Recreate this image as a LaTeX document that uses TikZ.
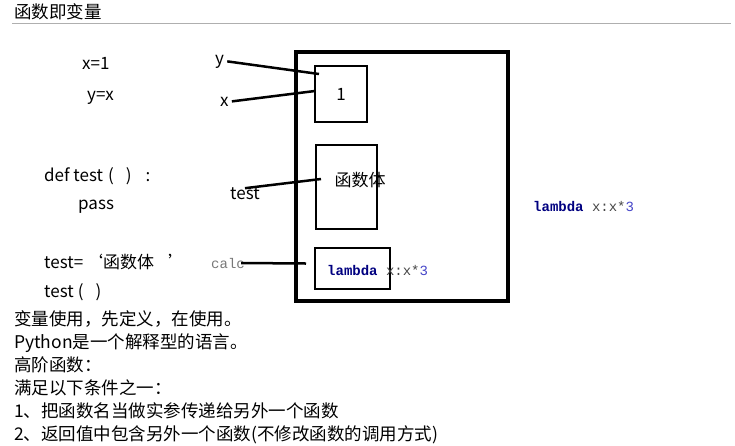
\documentclass[tikz,border=0pt]{standalone}
\usepackage{fontspec}
\setmainfont{Noto Sans CJK SC}
\newfontfamily\codefont{Liberation Mono}
\usepackage{tikz}
\usetikzlibrary{positioning,calc}
\definecolor{kwnavy}{RGB}{0,0,128}
\definecolor{exprgray}{RGB}{70,70,70}
\definecolor{numblue}{RGB}{70,70,200}
\definecolor{lblgray}{RGB}{120,120,120}
\definecolor{rulegray}{RGB}{175,175,175}
\tikzset{
  outerbox/.style={rectangle,draw=black,line width=3.2pt,anchor=north west,
    outer sep=0pt,inner sep=0pt},
  cellbox/.style={rectangle,draw=black,line width=2.6pt,anchor=north west,
    outer sep=0pt,inner sep=0pt,font=\fontsize{17pt}{20pt}\selectfont},
  ptr/.style={draw=black,line width=2.5pt},
  codetxt/.style={anchor=base west,inner sep=0pt,
    font=\fontsize{17pt}{20pt}\selectfont},
  notetxt/.style={anchor=base west,inner sep=0pt,
    font=\fontsize{17.5pt}{20pt}\selectfont},
  namelbl/.style={anchor=base west,inner sep=3pt,
    font=\fontsize{17pt}{20pt}\selectfont},
  lamtxt/.style={anchor=base west,inner sep=0pt,
    font=\codefont\fontsize{14pt}{16pt}\selectfont},
}

\begin{document}
\begin{tikzpicture}[x=1pt,y=-1pt]
  \useasboundingbox (0,0) rectangle (735,445);

  % heading
  \node[notetxt] (title) at (14,18) {函数即变量};
  \draw[rulegray,line width=1.8pt] (12,23.5) -- (731,23.5);

  % code on the left
  \node[codetxt] (xdef) at (82,69) {x=1};
  \node[codetxt] (ydef) at (87,100) {y=x};
  \node[codetxt] (fdef) at (44,181)
    {def test\hspace{5pt}(\hspace{12pt})\hspace{14pt}:};
  \node[codetxt] (fpass) at (78,209) {pass};
  \node[codetxt] (fassign) at (44,268) {test=\hspace{3pt}‘函数体\hspace{14pt}’};
  \node[codetxt] (fcall) at (44,297) {test\hspace{4pt}(\hspace{12pt})};

  % memory
  \node[outerbox,minimum width=212pt,minimum height=249pt] (mem) at (296,52) {};
  \node[cellbox,minimum width=52pt,minimum height=56pt] (one) at (315,66) {1};
  \node[cellbox,minimum width=61pt,minimum height=84pt] (fn) at (316,145) {};
  \node[codetxt,anchor=center] (fnbody) at (360,180) {函数体};
  \node[cellbox,minimum width=75pt,minimum height=41pt] (lam) at (315,248) {};
  \node[lamtxt] (lamexpr) at (327,275)
    {\textcolor{kwnavy}{\bfseries lambda} \textcolor{exprgray}{x:x*}\textcolor{numblue}{3}};

  % variable names
  \node[namelbl] (ylbl) at (212,64) {y};
  \node[namelbl] (xlbl) at (217,106) {x};
  \node[namelbl] (testlbl) at (227,199) {test};
  \node[lamtxt,inner sep=0pt] (calclbl) at (211,268) {\textcolor{lblgray}{calc}};

  % lambda on the right
  \node[lamtxt] (lamright) at (533,211)
    {\textcolor{kwnavy}{\bfseries lambda} \textcolor{exprgray}{x:x*}\textcolor{numblue}{3}};

  % pointers
  \draw[ptr] (ylbl.east) -- ([xshift=4pt,yshift=-8pt]one.north west);
  \draw[ptr] (xlbl.east) -- ([yshift=3pt]one.west);
  \draw[ptr] ([yshift=5pt]testlbl.center) -- ([xshift=5pt,yshift=8pt]fn.west);
  \draw[ptr] ([xshift=-4pt]calclbl.east) -- ([xshift=-9pt,yshift=5pt]lam.west);

  % notes below
  \node[notetxt] (n1) at (14,325) {变量使用，先定义，在使用。};
  \node[notetxt,below=23pt of n1.base west,anchor=base west] (n2)
    {Python是一个解释型的语言。};
  \node[notetxt,below=23pt of n2.base west,anchor=base west] (n3) {高阶函数：};
  \node[notetxt,below=23pt of n3.base west,anchor=base west] (n4) {满足以下条件之一：};
  \node[notetxt,below=23pt of n4.base west,anchor=base west] (n5)
    {1、把函数名当做实参传递给另外一个函数};
  \node[notetxt,below=23pt of n5.base west,anchor=base west] (n6)
    {2、返回值中包含另外一个函数(不修改函数的调用方式)};

\end{tikzpicture}
\end{document}
